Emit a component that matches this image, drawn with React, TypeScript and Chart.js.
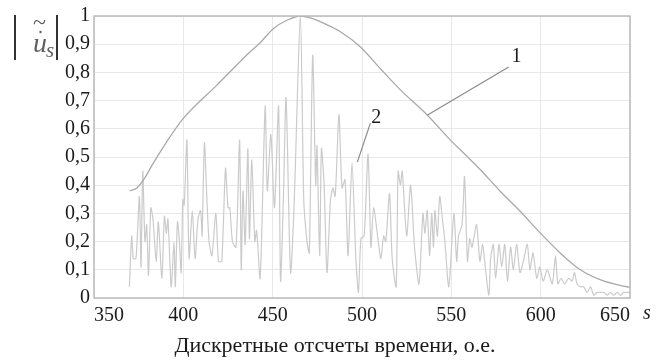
import React, { useEffect, useRef } from "react";
import { Chart, registerables } from "chart.js";

Chart.register(...registerables);

// Curve 1 (envelope)
const s1: number[] = [370, 374, 377.6, 383.2, 392.6, 400, 418.8, 437.4, 443, 450.5, 458, 465.5, 472.9, 480, 487.9, 499, 510, 521.5, 536.5, 549.5, 558, 566.4, 577.6, 588.8, 600, 611.2, 622.4, 633.6, 644.8, 650];
const v1: number[] = [0.38, 0.39, 0.418, 0.478, 0.572, 0.637, 0.755, 0.873, 0.905, 0.956, 0.985, 1.0, 0.99, 0.97, 0.944, 0.891, 0.815, 0.738, 0.649, 0.56, 0.507, 0.454, 0.377, 0.306, 0.229, 0.158, 0.099, 0.064, 0.044, 0.038];

// Curve 2 (signal)
const s2: number[] = [369.8, 371.1, 372, 373.5, 375.4, 376.3, 377.3, 378.5, 379.5, 380.5, 381.8, 383, 384.8, 386, 388, 389.4, 390.5, 391.4, 393.2, 394.8, 395.5, 396.7, 397.8, 398.8, 399.7, 400.5, 402, 403.2, 405, 406.6, 408.2, 409.7, 410.5, 411.8, 413.2, 414.4, 416, 418.2, 419.7, 421.5, 423.6, 425, 426, 427.5, 429.5, 431.5, 432.4, 433.4, 434.6, 436.1, 437, 438.3, 440, 441, 443, 445.8, 447, 449, 451, 453.3, 454.4, 456, 457.5, 460, 462, 465.5, 467.4, 469.2, 470.5, 472.4, 474.1, 474.8, 476.3, 477.3, 478.8, 480.4, 482.3, 483.7, 485, 487.1, 488.8, 490.5, 492.2, 494.4, 496.5, 498, 499.4, 501.2, 503.4, 505, 506.5, 509.3, 510.6, 512.1, 513.3, 515.4, 516.9, 519.1, 520.2, 521.5, 522.5, 525, 527.2, 529.4, 531.9, 534.1, 535.2, 536.5, 537.8, 539, 540, 540.8, 542.2, 543.5, 545, 546.4, 548.6, 551.4, 553, 554, 556, 557.4, 559, 560.3, 561.6, 564.1, 566, 567.5, 569, 571, 572, 573.5, 574.8, 576.7, 578.2, 579.9, 581.4, 583.2, 584.7, 586.6, 588.4, 590.3, 592.5, 594, 595.7, 597.8, 599.5, 601.4, 603.7, 606.5, 608.3, 609.6, 611.5, 613.3, 615.7, 617.6, 618.9, 620.4, 622.2, 624, 626, 627.9, 629.7, 631.6, 633.4, 635.3, 637.2, 639, 640.9, 642.8, 644.6, 646.5, 648.4, 650];
const v2: number[] = [0.04, 0.22, 0.14, 0.14, 0.36, 0.11, 0.45, 0.2, 0.26, 0.08, 0.32, 0.28, 0.13, 0.27, 0.07, 0.29, 0.23, 0.28, 0.04, 0.2, 0.04, 0.27, 0.2, 0.09, 0.35, 0.33, 0.56, 0.14, 0.31, 0.14, 0.28, 0.31, 0.22, 0.55, 0.35, 0.2, 0.15, 0.3, 0.13, 0.13, 0.46, 0.32, 0.32, 0.2, 0.18, 0.56, 0.1, 0.38, 0.19, 0.53, 0.21, 0.49, 0.2, 0.24, 0.07, 0.68, 0.38, 0.58, 0.32, 0.68, 0.06, 0.35, 0.71, 0.09, 0.33, 1.0, 0.35, 0.2, 0.16, 0.86, 0.4, 0.54, 0.15, 0.53, 0.4, 0.09, 0.34, 0.39, 0.36, 0.65, 0.39, 0.42, 0.15, 0.48, 0.15, 0.02, 0.21, 0.22, 0.51, 0.18, 0.32, 0.19, 0.14, 0.22, 0.2, 0.37, 0.14, 0.04, 0.45, 0.4, 0.45, 0.22, 0.4, 0.18, 0.05, 0.3, 0.23, 0.31, 0.15, 0.3, 0.18, 0.31, 0.22, 0.36, 0.28, 0.2, 0.04, 0.3, 0.13, 0.22, 0.26, 0.43, 0.13, 0.21, 0.18, 0.26, 0.13, 0.19, 0.11, 0.01, 0.14, 0.19, 0.07, 0.19, 0.11, 0.19, 0.06, 0.18, 0.1, 0.19, 0.09, 0.13, 0.19, 0.1, 0.16, 0.07, 0.11, 0.06, 0.1, 0.05, 0.15, 0.05, 0.07, 0.05, 0.07, 0.06, 0.09, 0.05, 0.04, 0.04, 0.02, 0.04, 0.01, 0.02, 0.02, 0.02, 0.01, 0.02, 0.01, 0.02, 0.01, 0.02, 0.02, 0.02];

const xTicks: number[] = [350, 400, 450, 500, 550, 600, 650];
const yTicks: number[] = [0, 0.1, 0.2, 0.3, 0.4, 0.5, 0.6, 0.7, 0.8, 0.9, 1];
const xTitle = "Дискретные отсчеты времени, о.е.";
const curveLabels = ["1", "2"];
// leader lines: [labelS, labelV, fromS, fromV, toS, toV]
const leader1: number[] = [586.5, 0.855, 582.1, 0.819, 536.7, 0.649];
const leader2: number[] = [508, 0.64, 504.7, 0.62, 497.4, 0.482];

const SERIF = "'Liberation Serif', 'Times New Roman', serif";

const fmtY = (v: number) => {
  const r = Math.round(v * 10) / 10;
  if (r === 0) return "0";
  if (r === 1) return "1";
  return r.toFixed(1).replace(".", ",");
};

const decor = {
  id: "decor",
  afterDraw(chart: any) {
    const { ctx, chartArea, scales } = chart;
    const xs = scales.x;
    const ys = scales.y;
    ctx.save();
    // frame
    ctx.strokeStyle = "#bababa";
    ctx.lineWidth = 1.5;
    ctx.strokeRect(chartArea.left, chartArea.top, chartArea.right - chartArea.left, chartArea.bottom - chartArea.top);

    // leaders
    ctx.strokeStyle = "#8a8a8a";
    ctx.lineWidth = 1.2;
    [leader1, leader2].forEach((l, i) => {
      ctx.beginPath();
      ctx.moveTo(xs.getPixelForValue(l[2]), ys.getPixelForValue(l[3]));
      ctx.lineTo(xs.getPixelForValue(l[4]), ys.getPixelForValue(l[5]));
      ctx.stroke();
      ctx.fillStyle = "#1a1a1a";
      ctx.font = `20px ${SERIF}`;
      ctx.textAlign = "center";
      ctx.textBaseline = "middle";
      ctx.fillText(curveLabels[i], xs.getPixelForValue(l[0]), ys.getPixelForValue(l[1]));
    });

    // s axis letter
    ctx.fillStyle = "#1a1a1a";
    ctx.font = `italic 20px ${SERIF}`;
    ctx.textAlign = "left";
    ctx.textBaseline = "middle";
    ctx.fillText("s", 643, 314);

    // x title
    ctx.font = `22px ${SERIF}`;
    ctx.textAlign = "center";
    ctx.fillText(xTitle, 335, 346);

    // y title |ũ_s|
    ctx.strokeStyle = "#333";
    ctx.lineWidth = 2;
    ctx.beginPath();
    ctx.moveTo(15, 15);
    ctx.lineTo(15, 60);
    ctx.moveTo(57, 15);
    ctx.lineTo(57, 60);
    ctx.stroke();
    ctx.fillStyle = "#606060";
    ctx.font = `italic 28px ${SERIF}`;
    ctx.textAlign = "left";
    ctx.textBaseline = "alphabetic";
    ctx.fillText("u", 33, 52);
    ctx.font = `italic 21px ${SERIF}`;
    ctx.fillText("s", 46, 57);
    ctx.font = `24px ${SERIF}`;
    ctx.fillText("~", 33, 30);
    ctx.beginPath();
    ctx.arc(40.5, 32, 1.2, 0, Math.PI * 2);
    ctx.fill();
    ctx.restore();
  },
};

export default function App() {
  const ref = useRef<HTMLCanvasElement | null>(null);
  useEffect(() => {
    if (!ref.current) return;
    const chart = new Chart(ref.current, {
      type: "line",
      data: {
        datasets: [
          {
            label: "1",
            data: s1.map((s, i) => ({ x: s, y: v1[i] })),
            borderColor: "#a9a9a9",
            borderWidth: 1.3,
            pointRadius: 0,
            cubicInterpolationMode: "monotone",
            fill: false,
          },
          {
            label: "2",
            data: s2.map((s, i) => ({ x: s, y: v2[i] })),
            borderColor: "#cbcbcb",
            borderWidth: 1.2,
            pointRadius: 0,
            tension: 0.25,
            fill: false,
          },
        ],
      },
      options: {
        responsive: false,
        animation: false,
        layout: { padding: { left: 0, right: 33, top: 16, bottom: 0 } },
        plugins: { legend: { display: false }, tooltip: { enabled: false } },
        scales: {
          x: {
            type: "linear",
            min: 350,
            max: 650,
            afterBuildTicks: (axis: any) => {
              axis.ticks = xTicks.map((v) => ({ value: v }));
            },
            afterFit: (axis: any) => {
              axis.height = 63;
            },
            grid: { color: "#e8e8e8", lineWidth: 1, drawTicks: false },
            border: { display: false },
            ticks: {
              align: "inner",
              padding: 6,
              color: "#1a1a1a",
              font: { family: SERIF, size: 20 },
              maxRotation: 0,
              autoSkip: false,
            },
          },
          y: {
            type: "linear",
            min: 0,
            max: 1,
            afterBuildTicks: (axis: any) => {
              axis.ticks = yTicks.map((v) => ({ value: v }));
            },
            afterFit: (axis: any) => {
              axis.width = 94;
            },
            grid: { color: "#e8e8e8", lineWidth: 1, drawTicks: false },
            border: { display: false },
            ticks: {
              padding: 4,
              color: "#1a1a1a",
              font: { family: SERIF, size: 20 },
              callback: (v: any) => fmtY(Number(v)),
              autoSkip: false,
            },
          },
        },
      },
      plugins: [decor],
    } as any);
    return () => chart.destroy();
  }, []);
  return (
    <div style={{ position: "absolute", left: 0, top: 0, width: 663, height: 361, background: "#fff" }}>
      <canvas ref={ref} width={663} height={361} style={{ width: 663, height: 361, display: "block" }} />
    </div>
  );
}
